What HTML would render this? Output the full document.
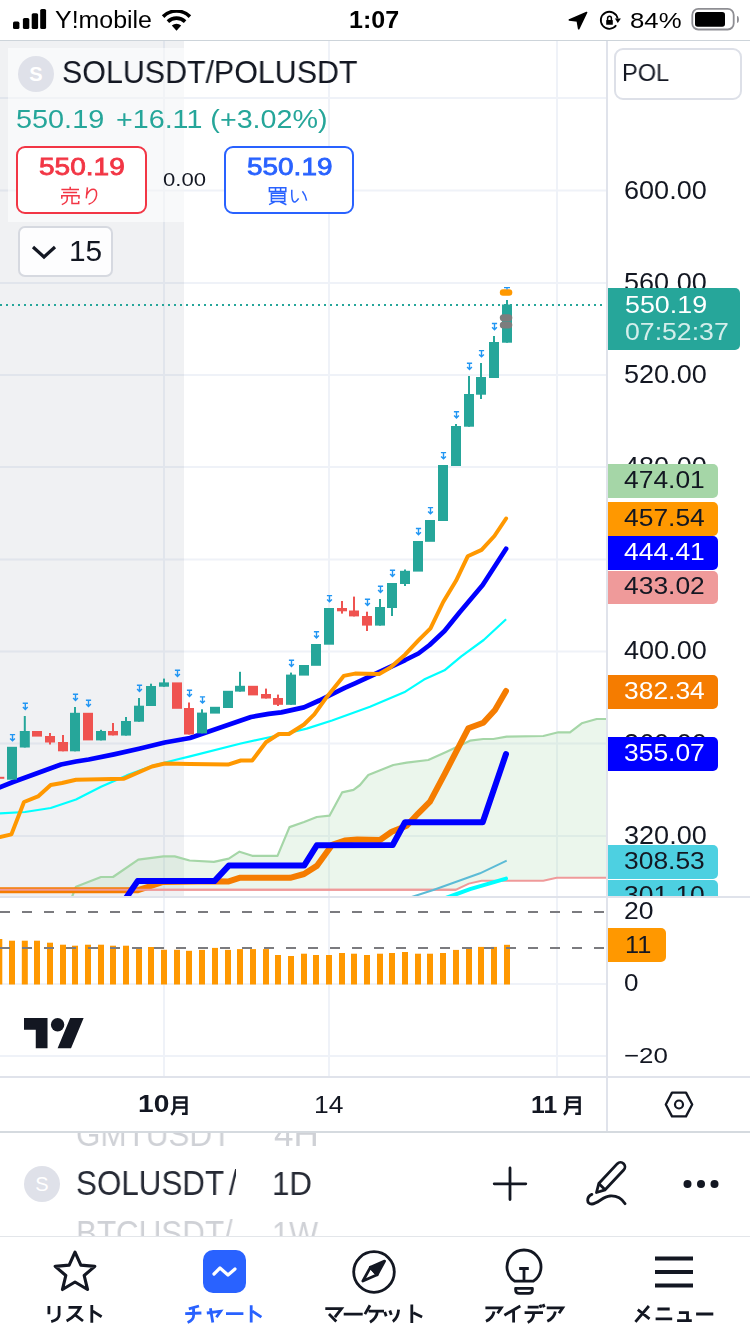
<!DOCTYPE html>
<html><head><meta charset="utf-8">
<style>
*{margin:0;padding:0;box-sizing:border-box}
html,body{width:750px;height:1334px;overflow:hidden;background:#fff;font-family:"Liberation Sans",sans-serif;color:#131722}
.a{position:absolute}
.t{position:absolute;line-height:1;white-space:nowrap;transform-origin:0 0;will-change:transform}
</style></head><body>
<svg class="a" style="left:0;top:0" width="750" height="1334" viewBox="0 0 750 1334">
<defs><clipPath id="mp"><rect x="0" y="41" width="606" height="855.5"/></clipPath></defs>
<rect x="0" y="97.0" width="606" height="2" fill="#eff2f8"/>
<rect x="0" y="189.5" width="606" height="2" fill="#eff2f8"/>
<rect x="0" y="282.0" width="606" height="2" fill="#eff2f8"/>
<rect x="0" y="374.0" width="606" height="2" fill="#eff2f8"/>
<rect x="0" y="466.0" width="606" height="2" fill="#eff2f8"/>
<rect x="0" y="558.5" width="606" height="2" fill="#eff2f8"/>
<rect x="0" y="650.5" width="606" height="2" fill="#eff2f8"/>
<rect x="0" y="742.5" width="606" height="2" fill="#eff2f8"/>
<rect x="0" y="835.0" width="606" height="2" fill="#eff2f8"/>
<rect x="163" y="41" width="2" height="1036" fill="#eff2f8"/>
<rect x="328" y="41" width="2" height="1036" fill="#eff2f8"/>
<rect x="556" y="41" width="2" height="1036" fill="#eff2f8"/>
<rect x="0" y="983" width="606" height="2" fill="#eff2f8"/>
<rect x="0" y="1055" width="606" height="2" fill="#eff2f8"/>
<rect x="0" y="41" width="184" height="856" fill="#69738a" fill-opacity="0.1"/>
<g clip-path="url(#mp)">
<polygon points="72.0,897.0 76.0,886.7 101.0,877.0 113.0,877.0 138.3,859.6 163.5,856.4 174.7,856.4 189.6,860.5 213.9,861.8 228.8,858.7 239.5,851.7 252.2,855.8 277.5,855.8 289.5,827.1 304.1,822.0 316.8,817.0 329.5,815.7 342.1,792.4 353.5,789.9 360.0,785.0 368.3,775.0 393.3,765.0 406.7,762.7 428.3,760.0 446.7,751.7 470.0,740.7 483.3,739.0 493.3,739.0 506.7,736.7 543.3,736.0 558.3,732.3 570.0,732.3 581.7,723.3 596.7,719.0 607.0,719.0 607.0,877.8 556.7,877.8 543.3,880.8 481.6,880.8 468.8,883.6 456.0,889.7 72.0,889.7" fill="#a5d6a7" fill-opacity="0.22"/>
<polyline points="0.0,889.8 456.0,889.7 468.8,883.6 481.6,880.8 543.3,880.8 556.7,877.8 607.0,877.8" fill="none" stroke="#ef9a9a" stroke-width="2"/>
<polyline points="72.0,897.0 76.0,886.7 101.0,877.0 113.0,877.0 138.3,859.6 163.5,856.4 174.7,856.4 189.6,860.5 213.9,861.8 228.8,858.7 239.5,851.7 252.2,855.8 277.5,855.8 289.5,827.1 304.1,822.0 316.8,817.0 329.5,815.7 342.1,792.4 353.5,789.9 360.0,785.0 368.3,775.0 393.3,765.0 406.7,762.7 428.3,760.0 446.7,751.7 470.0,740.7 483.3,739.0 493.3,739.0 506.7,736.7 543.3,736.0 558.3,732.3 570.0,732.3 581.7,723.3 596.7,719.0 607.0,719.0" fill="none" stroke="#a5d6a7" stroke-width="2.2" stroke-linejoin="round"/>
<polyline points="-5.0,890.3 137.3,890.3 163.0,882.0 214.2,881.3 228.0,881.6 239.5,877.8 290.2,877.8 304.1,874.0 316.8,865.9 332.0,844.9 344.7,840.6 357.3,839.5 380.0,840.0 391.7,831.7 406.7,825.7 418.3,813.3 430.0,801.7 445.0,773.3 468.3,728.3 483.3,722.7 495.0,710.0 506.0,691.0" fill="none" stroke="#f57c00" stroke-width="6" stroke-linejoin="round" stroke-linecap="round"/>
<polyline points="0.0,889.8 456.0,889.7" fill="none" stroke="#ef9a9a" stroke-width="2"/>
<polyline points="126.4,897.5 137.6,881.1 214.4,881.1 228.8,865.6 304.1,865.6 316.8,845.3 392.7,845.0 405.0,822.3 482.7,822.3 506.0,754.0" fill="none" stroke="#0000ff" stroke-width="6" stroke-linejoin="round" stroke-linecap="round"/>
<polyline points="411.7,897.0 433.3,890.0 480.0,873.3 506.7,860.7" fill="none" stroke="#5bbbd6" stroke-width="2"/>
<polyline points="446.0,898.0 470.0,889.2 506.0,878.6" fill="none" stroke="#00ffff" stroke-width="4" stroke-linecap="round"/>
<polyline points="0.0,813.4 25.0,812.0 50.7,808.0 76.0,799.5 101.0,786.8 126.7,775.4 152.0,766.0 177.0,759.5 190.0,756.4 240.8,743.5 278.8,735.2 306.7,728.6 332.0,720.5 370.0,706.8 405.3,691.7 424.0,679.6 444.5,670.3 461.3,656.3 483.7,640.0 506.1,619.2" fill="none" stroke="#00ffff" stroke-width="2.2" stroke-linejoin="round"/>
<polyline points="-3.0,788.5 12.4,782.3 61.0,764.5 76.0,761.5 88.7,759.5 114.0,754.4 139.0,748.8 164.7,742.5 190.0,738.0 251.0,717.0 268.7,713.9 281.3,712.4 304.0,707.4 319.3,700.5 344.7,687.8 355.0,683.3 377.3,673.0 405.3,660.0 418.4,653.5 429.6,645.0 444.5,631.0 459.5,612.4 482.7,585.0 506.1,548.8" fill="none" stroke="#0000ff" stroke-width="4.7" stroke-linejoin="round" stroke-linecap="round"/>
<polyline points="0.0,837.0 11.4,834.4 24.0,802.0 38.0,796.4 50.7,785.0 62.0,783.0 76.0,779.7 124.0,778.7 152.0,766.5 164.7,763.5 190.0,764.0 228.0,764.6 240.8,760.5 252.2,760.5 266.0,742.3 278.8,734.0 289.0,734.0 304.0,724.5 314.3,714.4 327.0,696.7 343.7,675.9 355.0,673.6 379.2,674.0 390.4,667.5 405.3,654.4 418.4,640.4 430.5,628.3 443.2,602.0 456.0,580.8 467.7,556.3 481.6,549.9 494.4,536.0 506.1,518.5" fill="none" stroke="#ff9800" stroke-width="4" stroke-linejoin="round" stroke-linecap="round"/>
<rect x="-5.7" y="776.8" width="10" height="2.0" fill="#ef5350"/>
<rect x="7.0" y="746.8" width="10" height="32.9" fill="#26a69a"/>
<g transform="translate(12.5,737.4)" stroke="#2196f3" stroke-width="1.4" fill="none"><path d="M-2.6,-2.8H2.6M0,-2.8V3.2M-2.4,1L0,3.4L2.4,1"/></g>
<rect x="23.8" y="716.0" width="2" height="31.5" fill="#26a69a"/>
<rect x="19.8" y="731.0" width="10" height="16.5" fill="#26a69a"/>
<g transform="translate(25.3,706.0)" stroke="#2196f3" stroke-width="1.4" fill="none"><path d="M-2.6,-2.8H2.6M0,-2.8V3.2M-2.4,1L0,3.4L2.4,1"/></g>
<rect x="32.0" y="731.0" width="10" height="5.6" fill="#ef5350"/>
<rect x="49.0" y="733.0" width="2" height="11.5" fill="#ef5350"/>
<rect x="45.0" y="736.0" width="10" height="6.5" fill="#ef5350"/>
<rect x="62.0" y="735.0" width="2" height="16.3" fill="#ef5350"/>
<rect x="58.0" y="742.0" width="10" height="9.3" fill="#ef5350"/>
<rect x="74.0" y="707.0" width="2" height="44.3" fill="#26a69a"/>
<rect x="70.0" y="712.8" width="10" height="38.5" fill="#26a69a"/>
<g transform="translate(75.5,697.0)" stroke="#2196f3" stroke-width="1.4" fill="none"><path d="M-2.6,-2.8H2.6M0,-2.8V3.2M-2.4,1L0,3.4L2.4,1"/></g>
<rect x="83.0" y="712.8" width="10" height="27.6" fill="#ef5350"/>
<g transform="translate(88.5,703.0)" stroke="#2196f3" stroke-width="1.4" fill="none"><path d="M-2.6,-2.8H2.6M0,-2.8V3.2M-2.4,1L0,3.4L2.4,1"/></g>
<rect x="100.0" y="729.8" width="2" height="10.6" fill="#26a69a"/>
<rect x="96.0" y="731.0" width="10" height="9.4" fill="#26a69a"/>
<rect x="112.0" y="723.0" width="2" height="12.4" fill="#ef5350"/>
<rect x="108.0" y="731.0" width="10" height="4.4" fill="#ef5350"/>
<rect x="125.0" y="717.0" width="2" height="18.6" fill="#26a69a"/>
<rect x="121.0" y="721.0" width="10" height="14.6" fill="#26a69a"/>
<rect x="138.0" y="698.0" width="2" height="23.7" fill="#26a69a"/>
<rect x="134.0" y="705.7" width="10" height="16.0" fill="#26a69a"/>
<g transform="translate(139.5,688.0)" stroke="#2196f3" stroke-width="1.4" fill="none"><path d="M-2.6,-2.8H2.6M0,-2.8V3.2M-2.4,1L0,3.4L2.4,1"/></g>
<rect x="150.0" y="683.7" width="2" height="22.3" fill="#26a69a"/>
<rect x="146.0" y="686.0" width="10" height="20.0" fill="#26a69a"/>
<rect x="163.0" y="678.6" width="2" height="8.1" fill="#26a69a"/>
<rect x="159.0" y="682.4" width="10" height="4.3" fill="#26a69a"/>
<rect x="172.0" y="682.4" width="10" height="26.4" fill="#ef5350"/>
<g transform="translate(177.5,673.0)" stroke="#2196f3" stroke-width="1.4" fill="none"><path d="M-2.6,-2.8H2.6M0,-2.8V3.2M-2.4,1L0,3.4L2.4,1"/></g>
<rect x="188.0" y="702.5" width="2" height="32.0" fill="#ef5350"/>
<rect x="184.0" y="708.0" width="10" height="26.5" fill="#ef5350"/>
<g transform="translate(189.5,693.0)" stroke="#2196f3" stroke-width="1.4" fill="none"><path d="M-2.6,-2.8H2.6M0,-2.8V3.2M-2.4,1L0,3.4L2.4,1"/></g>
<rect x="201.0" y="709.3" width="2" height="24.1" fill="#26a69a"/>
<rect x="197.0" y="712.6" width="10" height="20.8" fill="#26a69a"/>
<g transform="translate(202.5,699.7)" stroke="#2196f3" stroke-width="1.4" fill="none"><path d="M-2.6,-2.8H2.6M0,-2.8V3.2M-2.4,1L0,3.4L2.4,1"/></g>
<rect x="210.0" y="706.8" width="10" height="6.8" fill="#26a69a"/>
<rect x="223.0" y="690.8" width="10" height="17.2" fill="#26a69a"/>
<rect x="239.0" y="671.8" width="2" height="19.8" fill="#26a69a"/>
<rect x="235.0" y="685.8" width="10" height="5.8" fill="#26a69a"/>
<rect x="248.0" y="685.8" width="10" height="9.6" fill="#ef5350"/>
<rect x="265.0" y="688.6" width="2" height="9.9" fill="#ef5350"/>
<rect x="261.0" y="694.0" width="10" height="4.5" fill="#ef5350"/>
<rect x="277.0" y="694.6" width="2" height="11.4" fill="#ef5350"/>
<rect x="273.0" y="698.0" width="10" height="6.8" fill="#ef5350"/>
<rect x="290.0" y="672.6" width="2" height="32.2" fill="#26a69a"/>
<rect x="286.0" y="674.6" width="10" height="30.2" fill="#26a69a"/>
<g transform="translate(291.5,663.0)" stroke="#2196f3" stroke-width="1.4" fill="none"><path d="M-2.6,-2.8H2.6M0,-2.8V3.2M-2.4,1L0,3.4L2.4,1"/></g>
<rect x="299.0" y="665.0" width="10" height="10.6" fill="#26a69a"/>
<rect x="311.0" y="644.0" width="10" height="21.8" fill="#26a69a"/>
<g transform="translate(316.5,634.6)" stroke="#2196f3" stroke-width="1.4" fill="none"><path d="M-2.6,-2.8H2.6M0,-2.8V3.2M-2.4,1L0,3.4L2.4,1"/></g>
<rect x="324.0" y="608.0" width="10" height="36.7" fill="#26a69a"/>
<g transform="translate(329.5,598.4)" stroke="#2196f3" stroke-width="1.4" fill="none"><path d="M-2.6,-2.8H2.6M0,-2.8V3.2M-2.4,1L0,3.4L2.4,1"/></g>
<rect x="341.0" y="601.0" width="2" height="12.6" fill="#ef5350"/>
<rect x="337.0" y="608.0" width="10" height="3.3" fill="#ef5350"/>
<rect x="353.0" y="596.6" width="2" height="19.8" fill="#ef5350"/>
<rect x="349.0" y="610.5" width="10" height="5.9" fill="#ef5350"/>
<rect x="366.0" y="611.7" width="2" height="19.3" fill="#ef5350"/>
<rect x="362.0" y="616.0" width="10" height="9.6" fill="#ef5350"/>
<g transform="translate(367.5,602.0)" stroke="#2196f3" stroke-width="1.4" fill="none"><path d="M-2.6,-2.8H2.6M0,-2.8V3.2M-2.4,1L0,3.4L2.4,1"/></g>
<rect x="379.0" y="599.0" width="2" height="26.6" fill="#26a69a"/>
<rect x="375.0" y="607.0" width="10" height="18.6" fill="#26a69a"/>
<g transform="translate(380.5,589.0)" stroke="#2196f3" stroke-width="1.4" fill="none"><path d="M-2.6,-2.8H2.6M0,-2.8V3.2M-2.4,1L0,3.4L2.4,1"/></g>
<rect x="391.0" y="583.0" width="2" height="33.0" fill="#26a69a"/>
<rect x="387.0" y="583.0" width="10" height="25.0" fill="#26a69a"/>
<g transform="translate(392.5,573.0)" stroke="#2196f3" stroke-width="1.4" fill="none"><path d="M-2.6,-2.8H2.6M0,-2.8V3.2M-2.4,1L0,3.4L2.4,1"/></g>
<rect x="404.0" y="569.5" width="2" height="16.5" fill="#26a69a"/>
<rect x="400.0" y="570.8" width="10" height="13.2" fill="#26a69a"/>
<rect x="413.0" y="541.0" width="10" height="30.6" fill="#26a69a"/>
<g transform="translate(418.5,531.3)" stroke="#2196f3" stroke-width="1.4" fill="none"><path d="M-2.6,-2.8H2.6M0,-2.8V3.2M-2.4,1L0,3.4L2.4,1"/></g>
<rect x="425.0" y="520.0" width="10" height="21.8" fill="#26a69a"/>
<g transform="translate(430.5,510.4)" stroke="#2196f3" stroke-width="1.4" fill="none"><path d="M-2.6,-2.8H2.6M0,-2.8V3.2M-2.4,1L0,3.4L2.4,1"/></g>
<rect x="438.0" y="465.0" width="10" height="56.0" fill="#26a69a"/>
<g transform="translate(443.5,455.4)" stroke="#2196f3" stroke-width="1.4" fill="none"><path d="M-2.6,-2.8H2.6M0,-2.8V3.2M-2.4,1L0,3.4L2.4,1"/></g>
<rect x="455.0" y="424.0" width="2" height="42.0" fill="#26a69a"/>
<rect x="451.0" y="426.0" width="10" height="40.0" fill="#26a69a"/>
<g transform="translate(456.5,414.6)" stroke="#2196f3" stroke-width="1.4" fill="none"><path d="M-2.6,-2.8H2.6M0,-2.8V3.2M-2.4,1L0,3.4L2.4,1"/></g>
<rect x="468.0" y="376.0" width="2" height="50.7" fill="#26a69a"/>
<rect x="464.0" y="394.0" width="10" height="32.7" fill="#26a69a"/>
<g transform="translate(469.5,366.0)" stroke="#2196f3" stroke-width="1.4" fill="none"><path d="M-2.6,-2.8H2.6M0,-2.8V3.2M-2.4,1L0,3.4L2.4,1"/></g>
<rect x="480.0" y="363.0" width="2" height="36.0" fill="#26a69a"/>
<rect x="476.0" y="377.0" width="10" height="17.7" fill="#26a69a"/>
<g transform="translate(481.5,353.4)" stroke="#2196f3" stroke-width="1.4" fill="none"><path d="M-2.6,-2.8H2.6M0,-2.8V3.2M-2.4,1L0,3.4L2.4,1"/></g>
<rect x="493.0" y="336.0" width="2" height="42.0" fill="#26a69a"/>
<rect x="489.0" y="342.0" width="10" height="36.0" fill="#26a69a"/>
<g transform="translate(494.5,326.3)" stroke="#2196f3" stroke-width="1.4" fill="none"><path d="M-2.6,-2.8H2.6M0,-2.8V3.2M-2.4,1L0,3.4L2.4,1"/></g>
<rect x="506.0" y="300.0" width="2" height="42.7" fill="#26a69a"/>
<rect x="502.0" y="304.5" width="10" height="38.2" fill="#26a69a"/>
<rect x="499.8" y="314.2" width="12.5" height="7" rx="3.5" fill="#7d7d7d"/>
<rect x="499.8" y="321.4" width="12.5" height="7" rx="3.5" fill="#7d7d7d"/>
<rect x="499.8" y="289.3" width="12.5" height="6.4" rx="3.2" fill="#ff9800"/>
<path d="M504,287.6H510M507,287.6V289.5" stroke="#2196f3" stroke-width="1.3"/>
</g>
<line x1="0" y1="305" x2="607" y2="305" stroke="#26a69a" stroke-width="2" stroke-dasharray="2,4"/>
<rect x="0" y="896" width="750" height="2" fill="#e0e3eb"/>
<rect x="-3.7" y="939.0" width="6" height="45.5" fill="#ff9800"/>
<rect x="9.0" y="940.7" width="6" height="43.8" fill="#ff9800"/>
<rect x="21.8" y="940.7" width="6" height="43.8" fill="#ff9800"/>
<rect x="34.0" y="940.7" width="6" height="43.8" fill="#ff9800"/>
<rect x="47.0" y="942.7" width="6" height="41.8" fill="#ff9800"/>
<rect x="60.0" y="944.7" width="6" height="39.8" fill="#ff9800"/>
<rect x="72.0" y="945.7" width="6" height="38.8" fill="#ff9800"/>
<rect x="85.0" y="944.7" width="6" height="39.8" fill="#ff9800"/>
<rect x="98.0" y="944.7" width="6" height="39.8" fill="#ff9800"/>
<rect x="110.0" y="945.7" width="6" height="38.8" fill="#ff9800"/>
<rect x="123.0" y="945.7" width="6" height="38.8" fill="#ff9800"/>
<rect x="136.0" y="947.8" width="6" height="36.7" fill="#ff9800"/>
<rect x="148.0" y="947.0" width="6" height="37.5" fill="#ff9800"/>
<rect x="161.0" y="949.8" width="6" height="34.7" fill="#ff9800"/>
<rect x="174.0" y="949.8" width="6" height="34.7" fill="#ff9800"/>
<rect x="186.0" y="950.8" width="6" height="33.7" fill="#ff9800"/>
<rect x="199.0" y="949.9" width="6" height="34.6" fill="#ff9800"/>
<rect x="212.0" y="947.9" width="6" height="36.6" fill="#ff9800"/>
<rect x="225.0" y="949.9" width="6" height="34.6" fill="#ff9800"/>
<rect x="237.0" y="949.1" width="6" height="35.4" fill="#ff9800"/>
<rect x="250.0" y="949.1" width="6" height="35.4" fill="#ff9800"/>
<rect x="263.0" y="949.1" width="6" height="35.4" fill="#ff9800"/>
<rect x="275.0" y="955.0" width="6" height="29.5" fill="#ff9800"/>
<rect x="288.0" y="956.0" width="6" height="28.5" fill="#ff9800"/>
<rect x="301.0" y="953.7" width="6" height="30.8" fill="#ff9800"/>
<rect x="313.0" y="955.0" width="6" height="29.5" fill="#ff9800"/>
<rect x="326.0" y="955.0" width="6" height="29.5" fill="#ff9800"/>
<rect x="339.0" y="953.0" width="6" height="31.5" fill="#ff9800"/>
<rect x="351.0" y="953.7" width="6" height="30.8" fill="#ff9800"/>
<rect x="364.0" y="955.0" width="6" height="29.5" fill="#ff9800"/>
<rect x="377.0" y="953.7" width="6" height="30.8" fill="#ff9800"/>
<rect x="389.0" y="953.0" width="6" height="31.5" fill="#ff9800"/>
<rect x="402.0" y="952.0" width="6" height="32.5" fill="#ff9800"/>
<rect x="415.0" y="953.7" width="6" height="30.8" fill="#ff9800"/>
<rect x="427.0" y="953.7" width="6" height="30.8" fill="#ff9800"/>
<rect x="440.0" y="953.0" width="6" height="31.5" fill="#ff9800"/>
<rect x="453.0" y="949.9" width="6" height="34.6" fill="#ff9800"/>
<rect x="466.0" y="948.4" width="6" height="36.1" fill="#ff9800"/>
<rect x="478.0" y="946.9" width="6" height="37.6" fill="#ff9800"/>
<rect x="491.0" y="946.9" width="6" height="37.6" fill="#ff9800"/>
<rect x="504.0" y="944.8" width="6" height="39.7" fill="#ff9800"/>
<line x1="0" y1="912" x2="607" y2="912" stroke="#7b7b7f" stroke-width="2" stroke-dasharray="10,12"/>
<line x1="0" y1="948" x2="607" y2="948" stroke="#7b7b7f" stroke-width="2" stroke-dasharray="10,12"/>
<g transform="translate(24,1011.3) scale(1.68)" fill="#131722"><path d="M14 22H7V11H0V4h14v18zM28 22h-8l7.5-18h8L28 22z"/><circle cx="20" cy="8" r="4"/></g>
<rect x="606" y="41" width="2" height="1091" fill="#e0e3eb"/>
<rect x="0" y="1076" width="750" height="2" fill="#e0e3eb"/>
</svg>
<div class="t" style="left:623.65px;top:177.68px;font-size:25.49px;transform:scaleX(1.0619);font-weight:normal;color:#131722;">600.00</div>
<div class="t" style="left:623.65px;top:269.98px;font-size:25.49px;transform:scaleX(1.0619);font-weight:normal;color:#131722;">560.00</div>
<div class="t" style="left:623.65px;top:361.88px;font-size:25.49px;transform:scaleX(1.0619);font-weight:normal;color:#131722;">520.00</div>
<div class="t" style="left:623.65px;top:454.38px;font-size:25.49px;transform:scaleX(1.0619);font-weight:normal;color:#131722;">480.00</div>
<div class="t" style="left:623.65px;top:638.38px;font-size:25.49px;transform:scaleX(1.0619);font-weight:normal;color:#131722;">400.00</div>
<div class="t" style="left:623.65px;top:731.28px;font-size:25.49px;transform:scaleX(1.0619);font-weight:normal;color:#131722;">360.00</div>
<div class="t" style="left:623.65px;top:823.38px;font-size:25.49px;transform:scaleX(1.0619);font-weight:normal;color:#131722;">320.00</div>
<div class="a" style="left:608px;top:464px;width:110px;height:34.0px;background:#a5d6a7;border-radius:0 5px 5px 0"></div>
<div class="t" style="left:624.47px;top:467.92px;font-size:24.51px;transform:scaleX(1.0781);font-weight:normal;color:#131722;">474.01</div>
<div class="a" style="left:608px;top:502px;width:110px;height:33.6px;background:#ff9800;border-radius:0 5px 5px 0"></div>
<div class="t" style="left:624.47px;top:505.72px;font-size:24.51px;transform:scaleX(1.0781);font-weight:normal;color:#131722;">457.54</div>
<div class="a" style="left:608px;top:536px;width:110px;height:33.6px;background:#0000ff;border-radius:0 5px 5px 0"></div>
<div class="t" style="left:624.47px;top:539.72px;font-size:24.51px;transform:scaleX(1.0781);font-weight:normal;color:#ffffff;">444.41</div>
<div class="a" style="left:608px;top:570.6px;width:110px;height:33.4px;background:#ef9a9a;border-radius:0 5px 5px 0"></div>
<div class="t" style="left:624.47px;top:574.22px;font-size:24.51px;transform:scaleX(1.0781);font-weight:normal;color:#131722;">433.02</div>
<div class="a" style="left:608px;top:675px;width:110px;height:33.6px;background:#f57c00;border-radius:0 5px 5px 0"></div>
<div class="t" style="left:624.47px;top:678.72px;font-size:24.51px;transform:scaleX(1.0781);font-weight:normal;color:#ffffff;">382.34</div>
<div class="a" style="left:608px;top:737px;width:110px;height:33.6px;background:#0000ff;border-radius:0 5px 5px 0"></div>
<div class="t" style="left:624.47px;top:740.72px;font-size:24.51px;transform:scaleX(1.0781);font-weight:normal;color:#ffffff;">355.07</div>
<div class="a" style="left:608px;top:845px;width:110px;height:33.6px;background:#4dd0e1;border-radius:0 5px 5px 0"></div>
<div class="t" style="left:624.47px;top:848.72px;font-size:24.51px;transform:scaleX(1.0781);font-weight:normal;color:#131722;">308.53</div>
<div class="a" style="left:608px;top:879.6px;width:110px;height:16.4px;overflow:hidden"><div class="a" style="left:0;top:0;width:110px;height:33.6px;background:#4dd0e1;border-radius:0 5px 5px 0"></div><div class="t" style="left:16.47px;top:3.72px;font-size:24.51px;transform:scaleX(1.0781);color:#131722">301.10</div></div>

<!-- status bar -->
<div class="a" style="left:0;top:0;width:750px;height:40px;background:#fff"></div>
<div class="a" style="left:0;top:40px;width:750px;height:1px;background:#cdd4da"></div>
<svg class="a" style="left:12.8px;top:9.3px" width="34" height="21" viewBox="0 0 34 21"><rect x="0" y="12.6" width="6.4" height="7.4" rx="1.6" fill="#000"/><rect x="9.9" y="9" width="6.4" height="11" rx="1.6" fill="#000"/><rect x="18.7" y="4.2" width="6.4" height="15.8" rx="1.6" fill="#000"/><rect x="27.2" y="0" width="5.9" height="20" rx="1.6" fill="#000"/></svg>
<svg class="a" style="left:161px;top:10px" width="31" height="21" viewBox="0 0 31 21"><path d="M15.5 20.7 L10.8 15.6 A7 7 0 0 1 20.2 15.6 Z" fill="#000"/><path d="M6.9 11.6 A12.5 12.5 0 0 1 24.1 11.6" stroke="#000" stroke-width="3.6" fill="none"/><path d="M2.1 6.6 A19 19 0 0 1 28.9 6.6" stroke="#000" stroke-width="3.6" fill="none"/></svg>
<svg class="a" style="left:567px;top:10px" width="22" height="21" viewBox="0 0 22 21"><path d="M19.6 2.5 L2.3 9.9 L10.3 10.9 L11.7 18.8 Z" fill="#000" stroke="#000" stroke-width="1.6" stroke-linejoin="round"/></svg>
<svg class="a" style="left:596px;top:8px" width="30" height="24" viewBox="0 0 30 24"><path d="M20.18 17.3 A8.5 8.5 0 1 1 21.61 10.53" stroke="#000" stroke-width="1.8" fill="none"/><path d="M18.9 10.6 L24.9 10.6 L21.8 14.9 Z" fill="#000"/><rect x="10.2" y="12" width="6.6" height="4.8" rx="0.6" fill="#000"/><path d="M11.6 12.3 V10.2 A1.9 1.9 0 0 1 15.4 10.2 V12.3" stroke="#000" stroke-width="1.5" fill="none"/></svg>
<svg class="a" style="left:690px;top:7px" width="52" height="25" viewBox="0 0 52 25"><rect x="2.3" y="1.9" width="41.4" height="20.6" rx="6" stroke="#8e8e93" stroke-width="1.8" fill="none"/><rect x="5" y="5" width="30" height="14.8" rx="2.8" fill="#000"/><path d="M47 9 A1.9 3.4 0 0 1 47 15.8 Z" fill="#8e8e93"/></svg>
<div class="t" style="left:54.70px;top:8.26px;font-size:24.46px;transform:scaleX(1.0194);font-weight:normal;color:#000;">Y!mobile</div>
<div class="t" style="left:348.90px;top:8.41px;font-size:23.94px;transform:scaleX(1.0463);font-weight:bold;color:#000;">1:07</div>
<div class="t" style="left:630.37px;top:8.78px;font-size:22.82px;transform:scaleX(1.1286);font-weight:normal;color:#000;">84%</div>

<!-- legend box -->
<div class="a" style="left:8px;top:48px;width:176px;height:174px;background:rgba(255,255,255,0.55)"></div>
<div class="a" style="left:18px;top:56px;width:36px;height:36px;border-radius:50%;background:#dfe1e9;color:#fff;font-weight:bold;font-size:20px;line-height:36px;text-align:center">S</div>
<div class="a" style="left:16px;top:146px;width:131px;height:68px;border:2px solid #f23645;border-radius:9px;background:#fff"></div>
<div class="a" style="left:224px;top:146px;width:130px;height:68px;border:2px solid #2962ff;border-radius:9px;background:#fff"></div>
<div class="a" style="left:18px;top:226px;width:95px;height:51px;border:2px solid #d6d9e0;border-radius:7px;background:#fdfdfe"></div>
<svg class="a" style="left:31px;top:244px" width="26" height="16" viewBox="0 0 26 16"><path d="M2 3 L13 13 L24 3" stroke="#131722" stroke-width="3.2" fill="none"/></svg>
<div class="a" style="left:614px;top:48px;width:128px;height:52px;border:2px solid #dde0e8;border-radius:9px;background:#fff"></div>
<div class="a" style="left:608px;top:288.2px;width:131.7px;height:61.6px;background:#26a69a;border-radius:0 5px 5px 0"></div>
<div class="a" style="left:608px;top:928px;width:58px;height:34px;background:#ff9800;border-radius:0 5px 5px 0"></div>
<div class="t" style="left:61.98px;top:57.40px;font-size:31.97px;transform:scaleX(0.9506);font-weight:normal;color:#131722;">SOLUSDT/POLUSDT</div>
<div class="t" style="left:16.35px;top:105.63px;font-size:26.48px;transform:scaleX(1.0897);font-weight:normal;color:#26a69a;">550.19</div>
<div class="t" style="left:116.27px;top:105.63px;font-size:26.48px;transform:scaleX(1.0836);font-weight:normal;color:#26a69a;">+16.11 (+3.02%)</div>
<div class="t" style="left:38.68px;top:155.35px;font-size:24.37px;transform:scaleX(1.1511);font-weight:normal;color:#f23645;-webkit-text-stroke:0.8px #f23645;">550.19</div>
<div class="t" style="left:163.12px;top:170.75px;font-size:18.31px;transform:scaleX(1.2062);font-weight:normal;color:#131722;">0.00</div>
<div class="t" style="left:246.58px;top:155.35px;font-size:24.37px;transform:scaleX(1.1469);font-weight:normal;color:#2962ff;-webkit-text-stroke:0.8px #2962ff;">550.19</div>
<div class="t" style="left:68.62px;top:237.31px;font-size:28.71px;transform:scaleX(1.0377);font-weight:normal;color:#131722;">15</div>
<div class="t" style="left:621.51px;top:61.41px;font-size:23.94px;transform:scaleX(0.9856);font-weight:normal;color:#131722;">POL</div>
<div class="t" style="left:624.83px;top:292.57px;font-size:24.23px;transform:scaleX(1.1077);font-weight:normal;color:#fff;">550.19</div>
<div class="t" style="left:624.83px;top:320.65px;font-size:23.66px;transform:scaleX(1.1266);font-weight:normal;color:#d3eeeb;">07:52:37</div>
<div class="t" style="left:624.47px;top:898.98px;font-size:24.79px;transform:scaleX(1.0718);font-weight:normal;color:#131722;">20</div>
<div class="t" style="left:624.87px;top:933.18px;font-size:24.49px;transform:scaleX(1.0364);font-weight:normal;color:#131722;">11</div>
<div class="t" style="left:624.46px;top:971.35px;font-size:24.37px;transform:scaleX(1.0688);font-weight:normal;color:#131722;">0</div>
<div class="t" style="left:623.70px;top:1044.92px;font-size:22.54px;transform:scaleX(1.1493);font-weight:normal;color:#131722;">−20</div>
<div class="t" style="left:137.51px;top:1093.25px;font-size:23.66px;transform:scaleX(1.1884);font-weight:bold;color:#131722;">10</div>
<div class="t" style="left:314.09px;top:1093.85px;font-size:23.00px;transform:scaleX(1.1478);font-weight:normal;color:#131722;">14</div>
<div class="t" style="left:531.32px;top:1092.86px;font-size:24.64px;transform:scaleX(1.0042);font-weight:bold;color:#131722;">11</div>

<svg class="a" style="left:663px;top:1090px" width="32" height="29" viewBox="0 0 32 29"><path d="M9 2.6 H23 L29.2 14.5 L23 26.4 H9 L2.8 14.5 Z" stroke="#131722" stroke-width="2.3" fill="none" stroke-linejoin="round"/><circle cx="16" cy="14.5" r="4" stroke="#131722" stroke-width="2.2" fill="none"/></svg>
<div class="a" style="left:0;top:1131px;width:750px;height:1.5px;background:#d5dadf"></div>
<div class="a" style="left:0;top:1132.5px;width:750px;height:103.5px;overflow:hidden">
<div class="a" style="left:24px;top:33.5px;width:36px;height:36px;border-radius:50%;background:#dfe1e9;color:#fff;font-size:20px;line-height:36px;text-align:center">S</div>
<div class="a" style="left:76.43px;top:-15.61px;width:159.97px;height:60px;overflow:hidden"><div class="t" style="left:0;top:0;font-size:34.08px;transform:scaleX(0.9217);color:#cfd1d6">GMTUSDT</div></div>
<div class="a" style="left:274.30px;top:-15.69px"><div class="t" style="left:0;top:0;font-size:34.57px;transform:scaleX(1.0124);color:#cfd1d6">4H</div></div>
<div class="a" style="left:76.43px;top:33.58px;width:159.97px;height:60px;overflow:hidden"><div class="t" style="left:0;top:0;font-size:35.49px;transform:scaleX(0.8834);color:#262a35">SOLUSDT<span style="margin-left:5.5px">/</span></div></div>
<div class="a" style="left:271.70px;top:34.57px"><div class="t" style="left:0;top:0;font-size:33.91px;transform:scaleX(0.9231);color:#262a35">1D</div></div>
<div class="a" style="left:76.43px;top:83.98px;width:159.97px;height:60px;overflow:hidden"><div class="t" style="left:0;top:0;font-size:35.49px;transform:scaleX(0.8834);color:#cfd1d6">BTCUSDT/</div></div>
<div class="t" style="left:272.3px;top:84.3px;font-size:34.57px;transform:scaleX(0.888);color:#cfd1d6">1W</div>
</div>
<svg class="a" style="left:0;top:0" width="750" height="1334" viewBox="0 0 750 1334" fill="none" stroke="#131722" stroke-width="2.8" stroke-linecap="round" stroke-linejoin="round">
<path d="M494.2,1183.8 H525.8 M510,1168 V1199.6"/>
<path d="M617.35,1163.65 A4.45 4.45 0 0 1 623.65,1169.95 L605.1,1189.8 L596.5,1192.5 L598.8,1183.5 Z M598.8,1183.5 L605.1,1189.8"/>
<path d="M591.9,1194.4 C586,1197 586.5,1204.5 592,1204 C598,1203.5 603,1196.5 610,1196 C617,1195.5 622,1199 625.1,1203.7"/>
</svg>
<svg class="a" style="left:682px;top:1178px" width="40" height="12" viewBox="0 0 40 12"><circle cx="5.5" cy="6" r="4" fill="#131722"/><circle cx="19" cy="6" r="4" fill="#131722"/><circle cx="32.5" cy="6" r="4" fill="#131722"/></svg>
<div class="a" style="left:0;top:1236px;width:750px;height:1px;background:#e3e6ea"></div>
<svg class="a" style="left:51.2px;top:1248.6px" width="48" height="48" viewBox="0 0 46 46"><path d="M23 3 L28.6 15.4 L42 16.6 L31.8 25.4 L35 38.8 L23 31.6 L11 38.8 L14.2 25.4 L4 16.6 L17.4 15.4 Z" stroke="#131722" stroke-width="3" fill="none" stroke-linejoin="round"/></svg>
<div class="a" style="left:203px;top:1250px;width:43px;height:43px;border-radius:10px;background:#2962ff"></div>
<svg class="a" style="left:203px;top:1250px" width="43" height="43" viewBox="0 0 43 43"><path d="M11 24 L17 18 L25 25 L32 19" stroke="#fff" stroke-width="3.2" fill="none" stroke-linejoin="round" stroke-linecap="round"/></svg>
<svg class="a" style="left:0;top:0" width="750" height="1334" viewBox="0 0 750 1334" fill="none" stroke="#131722" stroke-width="2.8" stroke-linecap="round" stroke-linejoin="round">
<circle cx="374" cy="1272" r="20.3"/>
<path d="M384.6,1261.1 L377.1,1274.7 L370.4,1267.3 Z" fill="#131722"/>
<path d="M362.9,1281 L377.1,1274.7 L370.4,1267.3 Z"/>
<path d="M514.65,1281.2 A17 17 0 1 1 533.35,1281.2 Z"/>
<path d="M515.6,1288.4 H532.4 V1289.8 Q532.4,1293.4 528.8,1293.4 H519.2 Q515.6,1293.4 515.6,1289.8 Z"/>
<path d="M519.2,1268.5 H528.8 M524,1268.5 V1281.2" stroke-linecap="butt"/>
</svg>
<svg class="a" style="left:654px;top:1255px" width="40" height="34" viewBox="0 0 40 34"><path d="M1 3.5 H39 M1 17 H39 M1 30.5 H39" stroke="#131722" stroke-width="4"/></svg>
<svg class="a" style="left:0;top:0" width="750" height="1334" viewBox="0 0 750 1334" fill="none">
<g stroke="#f23645" stroke-width="1.5">
<path d="M70.2,186.8 V189.4 M61.4,189.4 H79 M63,192.6 H77.1 M61.8,198.8 V195.8 H79 V198.8 M67.2,195.8 V199.5 Q67,202.5 61.8,204.6 M72,195.8 V203.6 H78.7 V201"/>
<path d="M87.4,187.4 L86.3,198.3 M87,194.5 Q90,188.5 94.5,189.5 Q97,190.5 96.5,195.5 Q95.5,202 88.6,204.3"/>
</g>
<g stroke="#2962ff" stroke-width="1.5">
<path d="M269.4,187.8 H285.8 V191.6 H269.4 Z M275.5,187.8 V191.6 M280.6,187.8 V191.6 M271.4,193.2 H284.8 V201.5 H271.4 Z M271.4,195.8 H284.8 M271.4,198.5 H284.8 M274.6,201.8 L269.1,204.7 M280.3,201.8 L286.4,204.7"/>
<path d="M291.8,189.7 Q291.5,199 293,201 Q295,204 298.6,198.3 M302.4,191.3 Q305.5,195 306.6,200.6"/>
</g>
<g stroke="#131722" stroke-width="2.5">
<path d="M174.4,1108 V1097.6 H186.4 V1113.8 H182 M174.4,1108 Q174.4,1112 171.2,1114.8 M174.4,1102.4 H186.4 M174.4,1107.6 H186.4"/>
<path d="M567.2,1108 V1097.6 H579.6 V1113.8 H575.2 M567.2,1108 Q567.2,1112 564,1114.8 M567.2,1102 H579.6 M567.2,1107.2 H579.6"/>
</g>
<g stroke="#131722" stroke-width="2.8">
<path d="M48.9,1305.9 V1314.3 M59.1,1305.9 V1314.8 Q59.1,1319.5 51.2,1321.6"/>
<path d="M68.5,1307.3 H80.1 Q76,1316 66.6,1321 M74.5,1314.3 L83,1321"/>
<path d="M91.8,1305 V1322.7 M92.8,1311.1 L101.6,1316.7"/>
<path d="M325.3,1308.6 H341.5 L334.9,1317.1 M329,1314.1 L336.3,1321.5 M343.7,1314.1 H362.7"/>
<path d="M370,1305.3 L364.9,1314.1 M368.6,1311.2 H384 M377.4,1311.2 Q377,1318 370,1322.2"/>
<path d="M384.7,1311.9 L386.2,1316.3 M389.8,1310.5 L391.3,1314.9 M398.6,1309.7 Q398,1318 392.8,1321.5"/>
<path d="M411.8,1304.6 V1322.9 M413.3,1312.7 L422.1,1317.1"/>
<path d="M485.4,1307.8 H501.3 L497.6,1313.3 M494,1311.5 Q493,1318 486,1321.3"/>
<path d="M520.3,1306 L504.4,1315.2 M513.6,1310.9 V1322.5"/>
<path d="M527.7,1307.2 H538.7 M524.6,1312.7 H543 M533.8,1312.7 Q533.5,1320 527.7,1322.5 M540,1304.7 L541.2,1307.8 M543,1304.1 L544.3,1307.2"/>
<path d="M546.7,1307.8 H562.7 L559,1313.3 M555.3,1311.5 Q554.3,1318 547.3,1321.3"/>
<path d="M648.9,1306 L635.4,1321.9 M637.8,1309.7 L649.5,1318.9 M657.4,1309 H669.7 M655.6,1318.9 H672.2 M678.9,1312.7 H687.5 V1320.7 M677.1,1320.7 H691.8 M696.1,1314 H713.3"/>
</g>
<g stroke="#2962ff" stroke-width="2.8">
<path d="M199,1306 L188.8,1308.8 M185.2,1313.6 L201.4,1313 M193.6,1308.8 V1315.5 Q193.6,1320 187.6,1322.5"/>
<path d="M206.8,1313 L220.6,1311.2 L216.4,1317.2 M210.4,1308.2 L212.8,1322.6 M226,1313.6 H243.4"/>
<path d="M251.2,1305.2 V1322.6 M252.4,1311.2 L261.4,1317.2"/>
</g>
</svg>
</body></html>
